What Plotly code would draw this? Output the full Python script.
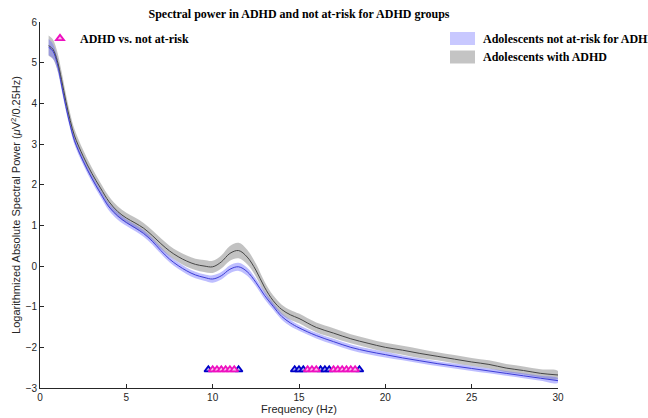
import plotly.graph_objects as go

# ---- data ----
freq = [0.5, 0.75, 1.0, 1.25, 1.5, 1.75, 2.0, 2.5, 3.0, 3.5, 4.0, 4.5, 5.0, 5.5, 6.0,
        6.5, 7.0, 7.5, 8.0, 8.5, 9.0, 9.5, 10.0, 10.5, 11.0, 11.5, 12.0, 12.5, 13.0,
        13.5, 14.0, 14.5, 15.0, 16.0, 17.0, 18.0, 19.0, 20.0, 21.0, 22.0, 23.0, 24.0,
        25.0, 26.0, 27.0, 28.0, 29.0, 30.0]

adhd_mean = [5.42, 5.33, 5.05, 4.58, 4.05, 3.58, 3.20, 2.70, 2.28, 1.92, 1.58, 1.34, 1.18,
             1.06, 0.93, 0.75, 0.55, 0.37, 0.23, 0.12, 0.04, 0.00, -0.02, 0.10, 0.31, 0.38,
             0.22, -0.10, -0.52, -0.85, -1.07, -1.20, -1.29, -1.51, -1.65, -1.79, -1.90,
             -2.00, -2.07, -2.15, -2.22, -2.29, -2.36, -2.42, -2.51, -2.57, -2.64, -2.68]
adhd_err = [0.25, 0.24, 0.22, 0.2, 0.18, 0.17, 0.16, 0.15, 0.14, 0.13, 0.13, 0.13, 0.13,
            0.13, 0.13, 0.13, 0.13, 0.13, 0.13, 0.14, 0.14, 0.15, 0.15, 0.16, 0.18, 0.19,
            0.18, 0.16, 0.14, 0.13, 0.12, 0.12, 0.12, 0.12, 0.12, 0.11, 0.11, 0.11, 0.11,
            0.11, 0.1, 0.1, 0.1, 0.1, 0.1, 0.1, 0.1, 0.1]

ctrl_mean = [5.38, 5.28, 4.98, 4.45, 3.92, 3.46, 3.08, 2.58, 2.16, 1.79, 1.45, 1.23, 1.07,
             0.94, 0.80, 0.61, 0.38, 0.17, 0.01, -0.12, -0.22, -0.28, -0.32, -0.24, -0.08,
             -0.02, -0.14, -0.40, -0.72, -0.99, -1.24, -1.40, -1.52, -1.71, -1.86, -2.00,
             -2.10, -2.18, -2.26, -2.33, -2.40, -2.46, -2.52, -2.58, -2.64, -2.70, -2.76, -2.82]
ctrl_err = [0.2, 0.18, 0.15, 0.12, 0.11, 0.1, 0.1, 0.09, 0.09, 0.09, 0.09, 0.09, 0.08,
            0.08, 0.08, 0.08, 0.08, 0.08, 0.08, 0.08, 0.08, 0.08, 0.09, 0.09, 0.1, 0.1,
            0.1, 0.09, 0.09, 0.08, 0.08, 0.08, 0.07, 0.07, 0.07, 0.07, 0.07, 0.07, 0.06,
            0.06, 0.06, 0.06, 0.06, 0.06, 0.06, 0.06, 0.06, 0.06]

sig_level = -2.55
sig_blue = [9.75, 11.5, 14.75, 15.0, 15.25, 16.25, 16.5, 16.75, 18.5]
sig_magenta = [10.0, 10.25, 10.5, 10.75, 11.0, 11.25, 15.5, 15.75, 16.0,
               17.0, 17.25, 17.5, 17.75, 18.0, 18.25]

x_ticks = [0, 5, 10, 15, 20, 25, 30]
y_ticks = [-3, -2, -1, 0, 1, 2, 3, 4, 5, 6]

title_text = "Spectral power in ADHD and not at-risk for ADHD groups"
legend_labels = ["Adolescents not at-risk for ADHD", "Adolescents with ADHD"]
sig_label = "ADHD vs. not at-risk"

GRAY_BAND = "rgba(120,120,120,0.45)"
GRAY_LINE = "rgb(70,70,70)"
BLUE_BAND = "rgba(100,100,255,0.42)"
BLUE_LINE = "rgb(60,60,215)"
MAGENTA = "#EE10C0"
BLUE_MK = "#0000C8"
SERIF = "Liberation Serif"
SANS = "Liberation Sans, Arial, sans-serif"
AXC = "#262626"

plot_l, plot_w, plot_t, plot_h = 40, 518, 22, 366

fig = go.Figure()


def band(mean, err, color):
    up = [m + e for m, e in zip(mean, err)]
    lo = [m - e for m, e in zip(mean, err)]
    return go.Scatter(x=freq + freq[::-1], y=up + lo[::-1], fill="toself",
                      fillcolor=color, line=dict(width=0, shape="spline"),
                      mode="lines", hoverinfo="skip", showlegend=False)


fig.add_trace(band(adhd_mean, adhd_err, GRAY_BAND))
fig.add_trace(band(ctrl_mean, ctrl_err, BLUE_BAND))
fig.add_trace(go.Scatter(x=freq, y=ctrl_mean, mode="lines",
                         line=dict(color=BLUE_LINE, width=1, shape="spline"),
                         showlegend=False))
fig.add_trace(go.Scatter(x=freq, y=adhd_mean, mode="lines",
                         line=dict(color=GRAY_LINE, width=1, shape="spline"),
                         showlegend=False))

fig.add_trace(go.Scatter(x=sig_blue, y=[sig_level] * len(sig_blue), mode="markers",
                         marker=dict(symbol="triangle-up", size=7, color="rgb(170,170,235)",
                                     line=dict(color=BLUE_MK, width=1.8)),
                         showlegend=False))
fig.add_trace(go.Scatter(x=sig_magenta, y=[sig_level] * len(sig_magenta), mode="markers",
                         marker=dict(symbol="triangle-up", size=7, color="rgb(250,190,235)",
                                     line=dict(color=MAGENTA, width=1.8)),
                         name="<b>%s</b>" % sig_label, showlegend=True, legend="legend2"))


def px2paper_x(px):
    return (px - plot_l) / plot_w


def px2paper_y(py):
    return (plot_t + plot_h - py) / plot_h


# right-hand legend drawn manually (it runs past the figure edge in the reference)
sw_colors = ["rgb(200,200,255)", "rgb(196,196,196)"]
for i, (lab, col) in enumerate(zip(legend_labels, sw_colors)):
    y0 = 32 + i * 18.5
    fig.add_shape(type="rect", xref="paper", yref="paper",
                  x0=px2paper_x(450), x1=px2paper_x(475),
                  y0=px2paper_y(y0 + 13), y1=px2paper_y(y0),
                  fillcolor=col, line=dict(width=0), layer="above")
    fig.add_annotation(xref="paper", yref="paper", x=px2paper_x(481),
                       y=px2paper_y(y0 + 6.5), text="<b>%s</b>" % lab,
                       showarrow=False, xanchor="left", yanchor="middle",
                       font=dict(family=SERIF, size=12, color="black"))

fig.update_layout(
    width=648, height=418,
    margin=dict(l=plot_l, r=648 - plot_l - plot_w, t=plot_t, b=418 - plot_t - plot_h,
                autoexpand=False),
    paper_bgcolor="white", plot_bgcolor="white",
    title=dict(text="<b>%s</b>" % title_text, x=(plot_l + plot_w / 2) / 648,
               xanchor="center", y=1 - 14 / 418, yanchor="middle",
               font=dict(family=SERIF, size=12, color="black")),
    legend2=dict(x=0.0, y=0.995, xanchor="left", yanchor="top",
                 bgcolor="rgba(0,0,0,0)", itemwidth=30,
                 font=dict(family=SERIF, size=12, color="black")),
    font=dict(family=SANS, size=10, color=AXC),
)

fig.update_xaxes(range=[0, 30], tickvals=x_ticks, automargin=False,
                 ticks="inside", ticklen=4, tickcolor=AXC,
                 showline=True, linecolor=AXC, linewidth=0.8,
                 showgrid=False, zeroline=False,
                 tickfont=dict(family=SANS, size=10, color=AXC),
                 title=dict(text="Frequency (Hz)", standoff=2,
                            font=dict(family=SANS, size=11, color=AXC)))
fig.update_yaxes(range=[-3, 6], tickvals=y_ticks, automargin=False,
                 ticks="inside", ticklen=4, tickcolor=AXC,
                 showline=True, linecolor=AXC, linewidth=0.8,
                 showgrid=False, zeroline=False,
                 tickfont=dict(family=SANS, size=10, color=AXC),
                 title=dict(text="Logarithmized Absolute Spectral Power (<i>μ</i>V<sup>2</sup>/0.25Hz)",
                            standoff=2,
                            font=dict(family=SANS, size=11, color=AXC)))

fig.write_html("out.html", config={"displayModeBar": False},
               post_script="document.body.style.margin='0';document.body.style.overflow='hidden';")
